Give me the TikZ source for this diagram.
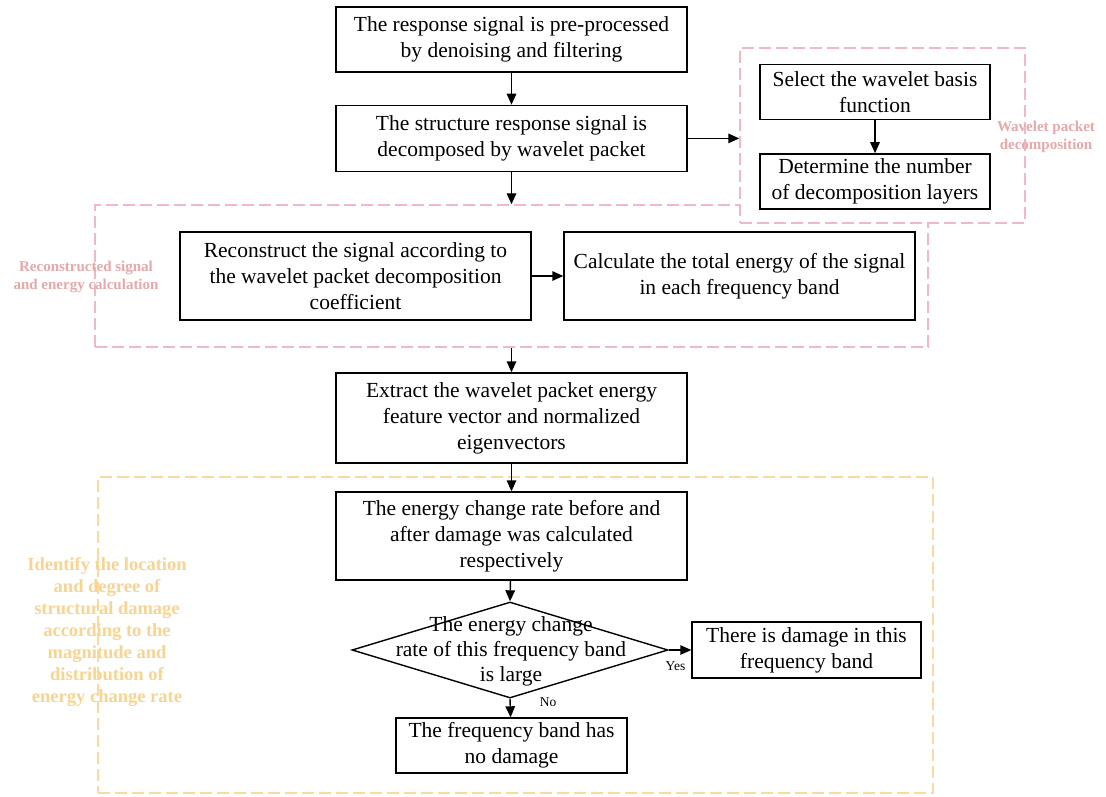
\documentclass[tikz,border=0pt]{standalone}
\usepackage{fontspec}
\setmainfont{Liberation Serif}
\usetikzlibrary{positioning,arrows.meta,shapes.geometric,calc}
\definecolor{pinkln}{RGB}{240,186,196}
\definecolor{pinktx}{RGB}{230,168,170}
\definecolor{yelln}{RGB}{250,218,160}
\definecolor{yeltx}{RGB}{249,212,145}

\begin{document}
\begin{tikzpicture}[x=1pt, y=-1pt, line width=1.4pt, >={Triangle[length=11pt,width=9.5pt]}]
\tikzstyle{box}=[draw, fill=white, align=center, inner sep=2pt, minimum width=351pt, font=\fontsize{21.5}{26}\selectfont]
\tikzstyle{sbox}=[box, minimum width=230pt, minimum height=55pt]
\tikzstyle{pinkreg}=[draw=pinkln, dash pattern=on 12pt off 5pt, line width=1.5pt, inner sep=0pt]
\tikzstyle{yelreg}=[draw=yelln, dash pattern=on 12pt off 5pt, line width=1.5pt, inner sep=0pt]
\tikzstyle{plbl}=[text=pinktx, align=center, font=\bfseries\fontsize{15}{18}\selectfont]
\tikzstyle{ylbl}=[text=yeltx, align=center, font=\bfseries\fontsize{18.5}{22}\selectfont]
\tikzstyle{yn}=[inner sep=1pt, font=\fontsize{13.5}{15}\selectfont]

\useasboundingbox (0,0) rectangle (1106,796);

% dashed regions
\node[pinkreg, minimum width=833pt, minimum height=142pt] (R) at (511.5,276) {};
\node[pinkreg, fill=white, minimum width=285pt, minimum height=175pt] (W) at (882.5,135.5) {};
\node[yelreg, minimum width=835pt, minimum height=316pt] (Y) at (515.5,635) {};
\node[plbl] (Rl) at (86,277) {Reconstructed signal\\and energy calculation};
\node[plbl] (Wl) at (1046,137) {Wavelet packet\\decomposition};
\node[ylbl] (Yl) at (107,632) {Identify the location\\and degree of\\structural damage\\according to the\\magnitude and\\distribution of\\energy change rate};

% main column
\node[box, minimum height=65pt] (A) at (511.5,39.5) {The response signal is pre-processed\\by denoising and filtering};
\node[box, minimum height=66pt, below=32pt of A] (B) {The structure response signal is\\decomposed by wavelet packet};
\node[sbox] (S) at (875,92) {Select the wavelet basis\\function};
\node[sbox, below=33pt of S] (N) {Determine the number\\of decomposition layers};
\node[box, minimum height=88pt] (C) at (355.5,276) {Reconstruct the signal according to\\the wavelet packet decomposition\\coefficient};
\node[box, minimum height=88pt] (E) at (739.5,276) {Calculate the total energy of the signal\\in each frequency band};
\node[box, minimum height=90pt] (F) at (511.5,418) {Extract the wavelet packet energy\\feature vector and normalized\\eigenvectors};
\node[box, minimum height=88pt] (G) at (511.5,536) {The energy change rate before and\\after damage was calculated\\respectively};
\node[draw, diamond, minimum width=316pt, minimum height=96pt, inner sep=0pt] (D) at (510,650) {};
\node[align=center, font=\fontsize{21.5}{25}\selectfont] (Dt) at (511,651) {The energy change\\rate of this frequency band\\is large};
\node[box, minimum width=229pt, minimum height=56pt] (H) at (806.5,650) {There is damage in this\\frequency band};
\node[box, minimum width=231pt, minimum height=55pt] (I) at (511.5,745.5) {The frequency band has\\no damage};

\draw[->] (A) -- (B);
\draw[->] (B) -- (R.north -| B.south);
\draw[->] (B.east) -- (B.east -| W.west);
\draw[->] (S) -- (N);
\draw[->] (C) -- (E);
\draw[->] (R.south -| F.north) -- (F);
\draw[->] (F) -- (G);
\draw[->] (G) -- (D.north);
\draw[->] (D.east) -- node[yn, below, pos=0.3, yshift=-10pt] {Yes} (H);
\draw[->] (D.south) -- node[yn, right, pos=0.2, xshift=28pt] {No} (I);
\end{tikzpicture}
\end{document}
